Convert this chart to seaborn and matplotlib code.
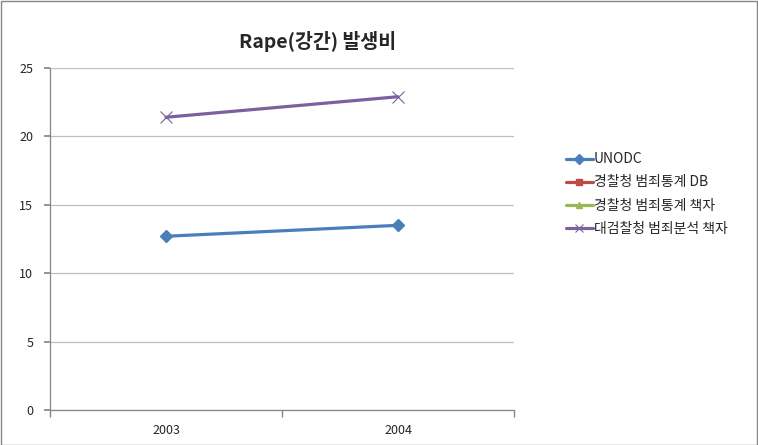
import pandas as pd
import matplotlib
matplotlib.use("Agg")
import matplotlib.pyplot as plt
from matplotlib.lines import Line2D
from matplotlib.patches import Rectangle
import seaborn as sns

# data
years = ["2003", "2004"]
series_names = ["UNODC", "경찰청 범죄통계 DB", "경찰청 범죄통계 책자", "대검찰청 범죄분석 책자"]
unodc = [12.7, 13.5]
police_db = [None, None]
police_book = [None, None]
prosecution_book = [21.4, 22.9]

colors = ["#4A7EBB", "#BE4B48", "#98B954", "#7D60A0"]
markers = ["D", "s", "^", "x"]

sns.set_theme(style="white")
plt.rcParams["font.family"] = ["Noto Sans CJK KR", "DejaVu Sans"]

fig = plt.figure(figsize=(7.58, 4.45), dpi=100)
ax = fig.add_axes([50 / 758, 1 - 410 / 445, 464 / 758, 342 / 445])

values = [unodc, police_db, police_book, prosecution_book]
x_pos = list(range(len(years)))
for name, vals, c, m in zip(series_names, values, colors, markers):
    df = pd.DataFrame({"x": x_pos, "y": vals}).dropna()
    if len(df) == 0:
        continue
    sns.lineplot(data=df, x="x", y="y", ax=ax, color=c, linewidth=2.3,
                 marker=m, markersize=6 if m != "x" else 8,
                 markeredgewidth=1 if m != "x" else 0.8,
                 markeredgecolor=c, legend=False)

ax.set_xlim(-0.5, len(years) - 0.5)
ax.set_ylim(0, 25)
ax.set_yticks(range(0, 26, 5))
ax.set_xticks(x_pos)
ax.set_xticklabels(years)
ax.set_xticks([-0.5, 0.5, 1.5], minor=True)
ax.set_xlabel("")
ax.set_ylabel("")
ax.yaxis.grid(True, color="#BFBFBF", linewidth=0.9)
ax.xaxis.grid(False)
for s in ["top", "right"]:
    ax.spines[s].set_visible(False)
for s in ["left", "bottom"]:
    ax.spines[s].set_color("#868686")
    ax.spines[s].set_linewidth(0.9)
ax.tick_params(axis="y", which="major", direction="out", length=4, color="#868686",
               left=True, labelsize=9, pad=8)
ax.tick_params(axis="x", which="major", length=0, labelsize=9, pad=10)
ax.tick_params(axis="x", which="minor", direction="out", length=5, color="#868686", bottom=True)

fig.text(318 / 758, 1 - 42 / 445, "Rape(강간) 발생비", ha="center", va="center",
         fontsize=14, fontweight="bold")

handles = [Line2D([0], [0], color=c, marker=m, linewidth=2.3,
                  markersize=5 if m != "x" else 6, markeredgecolor=c,
                  markeredgewidth=1 if m != "x" else 0.8)
           for c, m in zip(colors, markers)]
fig.legend(handles, series_names, loc="center left", bbox_to_anchor=(553 / 758, 1 - 194 / 445),
           frameon=False, fontsize=10, handlelength=2.0, handletextpad=0.05, labelspacing=0.65)

fig.patches.append(Rectangle((0.5 / 758, 0.5 / 445), 756.5 / 758, 443.5 / 445,
                             transform=fig.transFigure, fill=False,
                             edgecolor="#868686", linewidth=1))

fig.savefig("out.png", dpi=100)
